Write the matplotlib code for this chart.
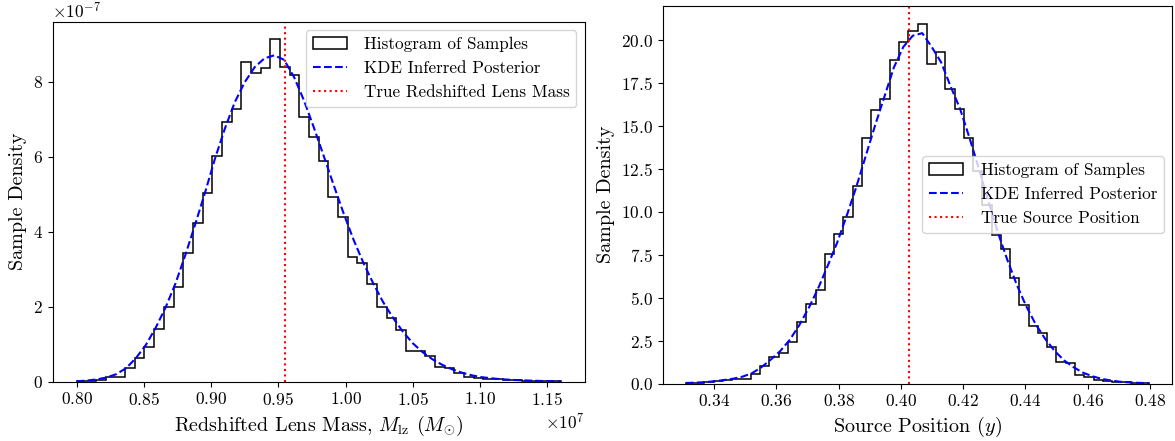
import numpy as np
import matplotlib
matplotlib.use("Agg")
import matplotlib.pyplot as plt

plt.rcParams.update({
    "font.family": "serif",
    "font.serif": ["cmr10"],
    "mathtext.fontset": "cm",
    "axes.formatter.use_mathtext": True,
    "axes.unicode_minus": False,
})

# ---------------- Left panel: redshifted lens mass ----------------
mass_range = (0.800e7, 1.160e7)
mass_hist = [0.01, 0.02, 0.05, 0.12, 0.13, 0.37, 0.64, 0.93, 1.41, 1.98,
             2.53, 3.42, 4.24, 5.02, 6.02, 6.93, 7.26, 8.53, 8.24, 8.37,
             9.14, 8.40, 8.17, 7.05, 6.53, 5.89, 4.93, 4.38, 3.33, 3.17,
             2.61, 1.98, 1.70, 1.38, 0.81, 0.81, 0.68, 0.40, 0.36, 0.22,
             0.13, 0.10, 0.07, 0.06, 0.05, 0.04, 0.03, 0.02, 0.01, 0.01]
mass_kde = [0.01, 0.03, 0.06, 0.11, 0.20, 0.36, 0.63, 0.98, 1.44, 1.98,
            2.62, 3.38, 4.20, 5.05, 5.95, 6.75, 7.45, 7.98, 8.38, 8.62,
            8.70, 8.58, 8.12, 7.50, 6.78, 6.02, 5.25, 4.50, 3.80, 3.18,
            2.63, 2.13, 1.71, 1.34, 1.03, 0.79, 0.60, 0.45, 0.33, 0.24,
            0.17, 0.12, 0.09, 0.065, 0.05, 0.038, 0.028, 0.02, 0.014, 0.01]
mass_scale = 1e-7
true_mass = 0.955e7

# ---------------- Right panel: source position ----------------
pos_range = (0.33095, 0.4797)
pos_hist = [0.04, 0.04, 0.06, 0.15, 0.23, 0.25, 0.29, 0.58, 1.03, 1.55,
            1.75, 2.43, 3.60, 4.62, 5.44, 7.54, 8.70, 9.71, 11.50, 14.28,
            15.94, 16.56, 18.85, 19.88, 20.50, 20.95, 18.60, 19.33, 17.14, 16.00,
            14.28, 12.40, 10.40, 8.65, 7.81, 6.16, 4.57, 3.36, 2.92, 2.10,
            1.28, 1.17, 0.48, 0.35, 0.23, 0.15, 0.10, 0.06, 0.03, 0.02]
pos_kde = [0.03, 0.05, 0.08, 0.13, 0.20, 0.28, 0.40, 0.60, 0.95, 1.40,
           1.90, 2.55, 3.40, 4.40, 5.55, 6.85, 8.20, 9.75, 11.40, 13.20,
           15.00, 16.70, 18.40, 19.60, 20.25, 20.40, 19.60, 18.70, 17.30, 16.00,
           14.30, 12.50, 10.60, 8.80, 7.20, 5.75, 4.50, 3.45, 2.60, 1.90,
           1.35, 0.95, 0.63, 0.42, 0.27, 0.17, 0.10, 0.06, 0.035, 0.02]
true_pos = 0.4025

W, H = 1175, 441
fig = plt.figure(figsize=(W / 100, H / 100), dpi=100)

def axes_px(x0, x1, ytop, ybot):
    return fig.add_axes([x0 / W, 1 - ybot / H, (x1 - x0) / W, (ybot - ytop) / H])

ax1 = axes_px(52.5, 585, 21.7, 381.7)
ax2 = axes_px(662.7, 1172.3, 5.7, 383.5)

def panel(ax, rng, hist, kde, scale, true_val, true_label, xlabel, legend_loc):
    edges = np.linspace(rng[0], rng[1], len(hist) + 1)
    dens = np.array(hist) * scale
    ax.hist(edges[:-1], bins=edges, weights=dens, histtype="step",
            color="black", linewidth=1.1, label="Histogram of Samples")
    xk = np.linspace(rng[0], rng[1], len(kde))
    ax.plot(xk, np.array(kde) * scale, color="blue", linestyle="--",
            linewidth=1.5, label="KDE Inferred Posterior")
    ax.axvline(true_val, color="red", linestyle=":", linewidth=1.5,
               label=true_label)
    ax.set_xlabel(xlabel, fontsize=14.5)
    ax.set_ylabel("Sample Density", fontsize=14.5)
    ax.tick_params(labelsize=12.5)
    ax.legend(loc=legend_loc, fontsize=12.3, handletextpad=1.0)

panel(ax1, mass_range, mass_hist, mass_kde, mass_scale, true_mass,
      "True Redshifted Lens Mass",
      r"Redshifted Lens Mass, $M_{\rm lz}$ $(M_{\odot})$", "upper right")
ax1.xaxis.get_offset_text().set_fontsize(12.5)
ax1.yaxis.get_offset_text().set_fontsize(12.5)

panel(ax2, pos_range, pos_hist, pos_kde, 1.0, true_pos,
      "True Source Position", r"Source Position $(y)$", "center right")
ax2.set_xticks([0.34, 0.36, 0.38, 0.40, 0.42, 0.44, 0.46, 0.48])

fig.savefig("out.png", dpi=100)
